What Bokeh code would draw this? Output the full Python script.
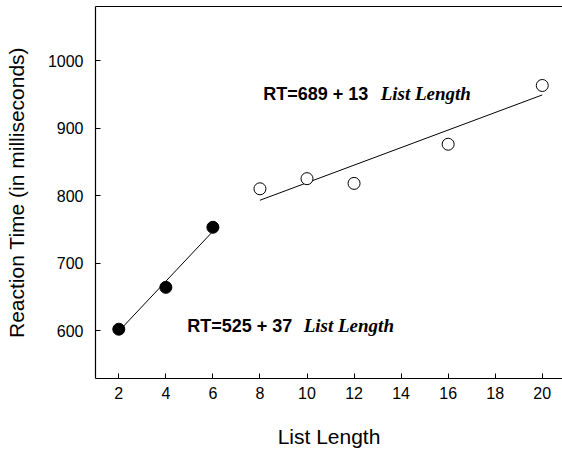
from bokeh.plotting import figure
from bokeh.models import LinearAxis, FixedTicker, Range1d
from bokeh.core.properties import value
from bokeh.embed import file_html
from bokeh.resources import INLINE

# Reaction time vs. list length
short_len = [2, 4, 6]
short_rt = [602, 664, 753]
long_len = [8, 10, 12, 16, 20]
long_rt = [810, 825, 818, 876, 963]

# fitted lines: RT = a + b * List Length
short_fit = (525, 37)
long_fit = (689, 13)

x_ticks = [2, 4, 6, 8, 10, 12, 14, 16, 18, 20]
y_ticks = [600, 700, 800, 900, 1000]

SANS = "Liberation Sans"
SERIF = "Liberation Serif"

p = figure(width=562, height=450, output_backend="svg", toolbar_location=None,
           x_range=Range1d(1.01, 20.86), y_range=Range1d(529, 1080),
           min_border_left=95, min_border_right=0, min_border_top=6, min_border_bottom=72)
p.outline_line_color = None
p.xgrid.visible = False
p.ygrid.visible = False
p.background_fill_color = "white"

for ax in (p.xaxis[0], p.yaxis[0]):
    ax.major_tick_in = 5
    ax.major_tick_out = 0
    ax.minor_tick_line_color = None
    ax.axis_line_color = "black"
    ax.axis_line_width = 1.2
    ax.major_tick_line_color = "black"
    ax.major_label_text_font = SANS
    ax.major_label_text_font_size = "16px"
    ax.major_label_text_color = "black"
    ax.axis_label_text_font = SANS
    ax.axis_label_text_font_size = "21px"
    ax.axis_label_text_font_style = "normal"
    ax.axis_label_text_color = "black"

p.xaxis[0].ticker = FixedTicker(ticks=x_ticks)
p.yaxis[0].ticker = FixedTicker(ticks=y_ticks)
p.xaxis[0].axis_label = "List Length"
p.yaxis[0].axis_label = "Reaction Time (in milliseconds)"
p.xaxis[0].major_label_standoff = 8
p.yaxis[0].major_label_standoff = 12
p.xaxis[0].axis_label_standoff = 23
p.yaxis[0].axis_label_standoff = 17

# top border line only
top = LinearAxis(ticker=FixedTicker(ticks=[]), major_tick_line_color=None,
                 minor_tick_line_color=None, major_label_text_font_size="0px",
                 axis_line_color="black", axis_line_width=1.2)
p.add_layout(top, "above")

# fit lines
sx = [short_len[0], short_len[-1]]
p.line(sx, [short_fit[0] + short_fit[1] * v for v in sx], line_color="black", line_width=1)
lx = [long_len[0], long_len[-1]]
p.line(lx, [long_fit[0] + long_fit[1] * v for v in lx], line_color="black", line_width=1)

# data points
p.scatter(short_len, short_rt, size=12, fill_color="black", line_color="black")
p.scatter(long_len, long_rt, size=12, fill_color="white", line_color="black", line_width=1)

# equation labels
def equation(x0, x1, y, a, b):
    p.text([x0], [y], text=[f"RT={a} + {b}"], text_font=value(SANS),
           text_font_style="bold", text_font_size="18px", text_baseline="alphabetic",
           text_align="left", text_color="black")
    p.text([x1], [y], text=["List Length"], text_font=value(SERIF),
           text_font_style="bold italic", text_font_size="19px", text_baseline="alphabetic",
           text_align="left", text_color="black")

equation(8.14, 13.13, 951, *long_fit)
equation(4.91, 9.86, 607, *short_fit)

open("out.html", "w").write(file_html(p, INLINE))
